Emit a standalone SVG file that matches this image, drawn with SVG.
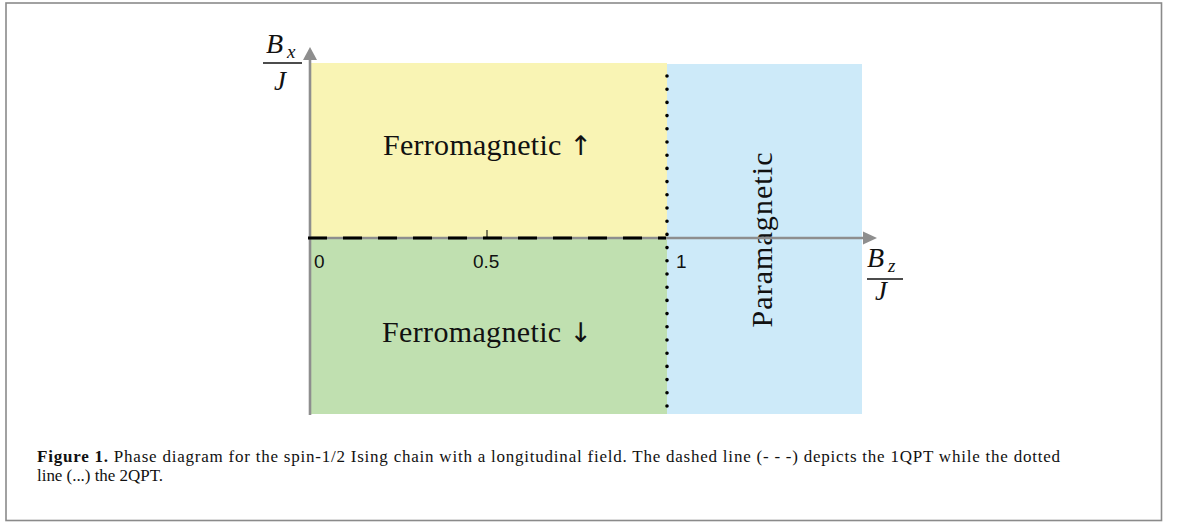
<svg xmlns="http://www.w3.org/2000/svg" width="1179" height="522" viewBox="0 0 1179 522">
<defs>
<style>
.axis{stroke:#8e8e8e;stroke-width:2.6;fill:none}
.ah{fill:#8e8e8e}
.lbl{font-family:"Liberation Serif","Times New Roman",serif;font-size:30px;fill:#111}
.arr{font-family:"DejaVu Sans",sans-serif;font-size:27px}
.tick{font-family:"Liberation Sans",Arial,sans-serif;font-size:19px;fill:#111}
.math{font-family:"Liberation Serif","Times New Roman",serif;font-style:italic;fill:#111}
.cap{font-family:"Liberation Serif","Times New Roman",serif;font-size:17px;fill:#111}
</style>
</defs>
<rect x="6" y="3" width="1155.5" height="517.5" fill="#fff" stroke="#8a8a8a" stroke-width="1.6"/>
<g id="ferro-up">
<rect x="310" y="63" width="357" height="175" fill="#f9f4b4"/>
<text class="lbl" x="383" y="155" textLength="209">Ferromagnetic <tspan class="arr">↑</tspan></text>
</g>
<g id="ferro-down">
<rect x="310" y="238" width="357" height="176" fill="#c0e0b0"/>
<text class="lbl" x="382" y="342" textLength="210">Ferromagnetic <tspan class="arr">↓</tspan></text>
</g>
<g id="para">
<rect x="667" y="64" width="195" height="350" fill="#cdeaf9"/>
<text class="lbl" transform="translate(772,240) rotate(-90)" text-anchor="middle" textLength="175">Paramagnetic</text>
</g>
<g id="connectors">
<line class="axis" x1="310" y1="415" x2="310" y2="58"/>
<polygon class="ah" points="310,47 303,60 317,60"/>
<line class="axis" x1="310" y1="238" x2="865" y2="238"/>
<polygon class="ah" points="877,238 863,231.5 863,244.5"/>
<line x1="308" y1="238" x2="666" y2="238" stroke="#000" stroke-width="2.8" stroke-dasharray="19 16"/>
<line x1="487" y1="230" x2="487" y2="238" stroke="#000" stroke-width="1"/>
<line x1="667" y1="76" x2="667" y2="407" stroke="#000" stroke-width="3.6" stroke-linecap="round" stroke-dasharray="0 13.2"/>
</g>
<g id="ticks">
<text class="tick" x="314" y="268">0</text>
<text class="tick" x="473" y="268">0.5</text>
<text class="tick" x="676" y="268">1</text>
</g>
<g id="label-bx">
<text class="math" x="266" y="53" font-size="28">B</text>
<text class="math" x="287" y="58" font-size="19">x</text>
<line x1="263" y1="63" x2="302" y2="63" stroke="#111" stroke-width="1.3"/>
<text class="math" x="274" y="90" font-size="27">J</text>
</g>
<g id="label-bz">
<text class="math" x="867" y="267" font-size="28">B</text>
<text class="math" x="888" y="272" font-size="19">z</text>
<line x1="867" y1="279" x2="903" y2="279" stroke="#111" stroke-width="1.3"/>
<text class="math" x="875" y="300" font-size="27">J</text>
</g>
<g id="caption">
<text class="cap" x="37" y="462" textLength="1023" lengthAdjust="spacing"><tspan font-weight="bold">Figure 1.</tspan> Phase diagram for the spin-1/2 Ising chain with a longitudinal field. The dashed line (- - -) depicts the 1QPT while the dotted</text>
<text class="cap" x="37" y="481" textLength="126" lengthAdjust="spacing">line (...) the 2QPT.</text>
</g>
</svg>
